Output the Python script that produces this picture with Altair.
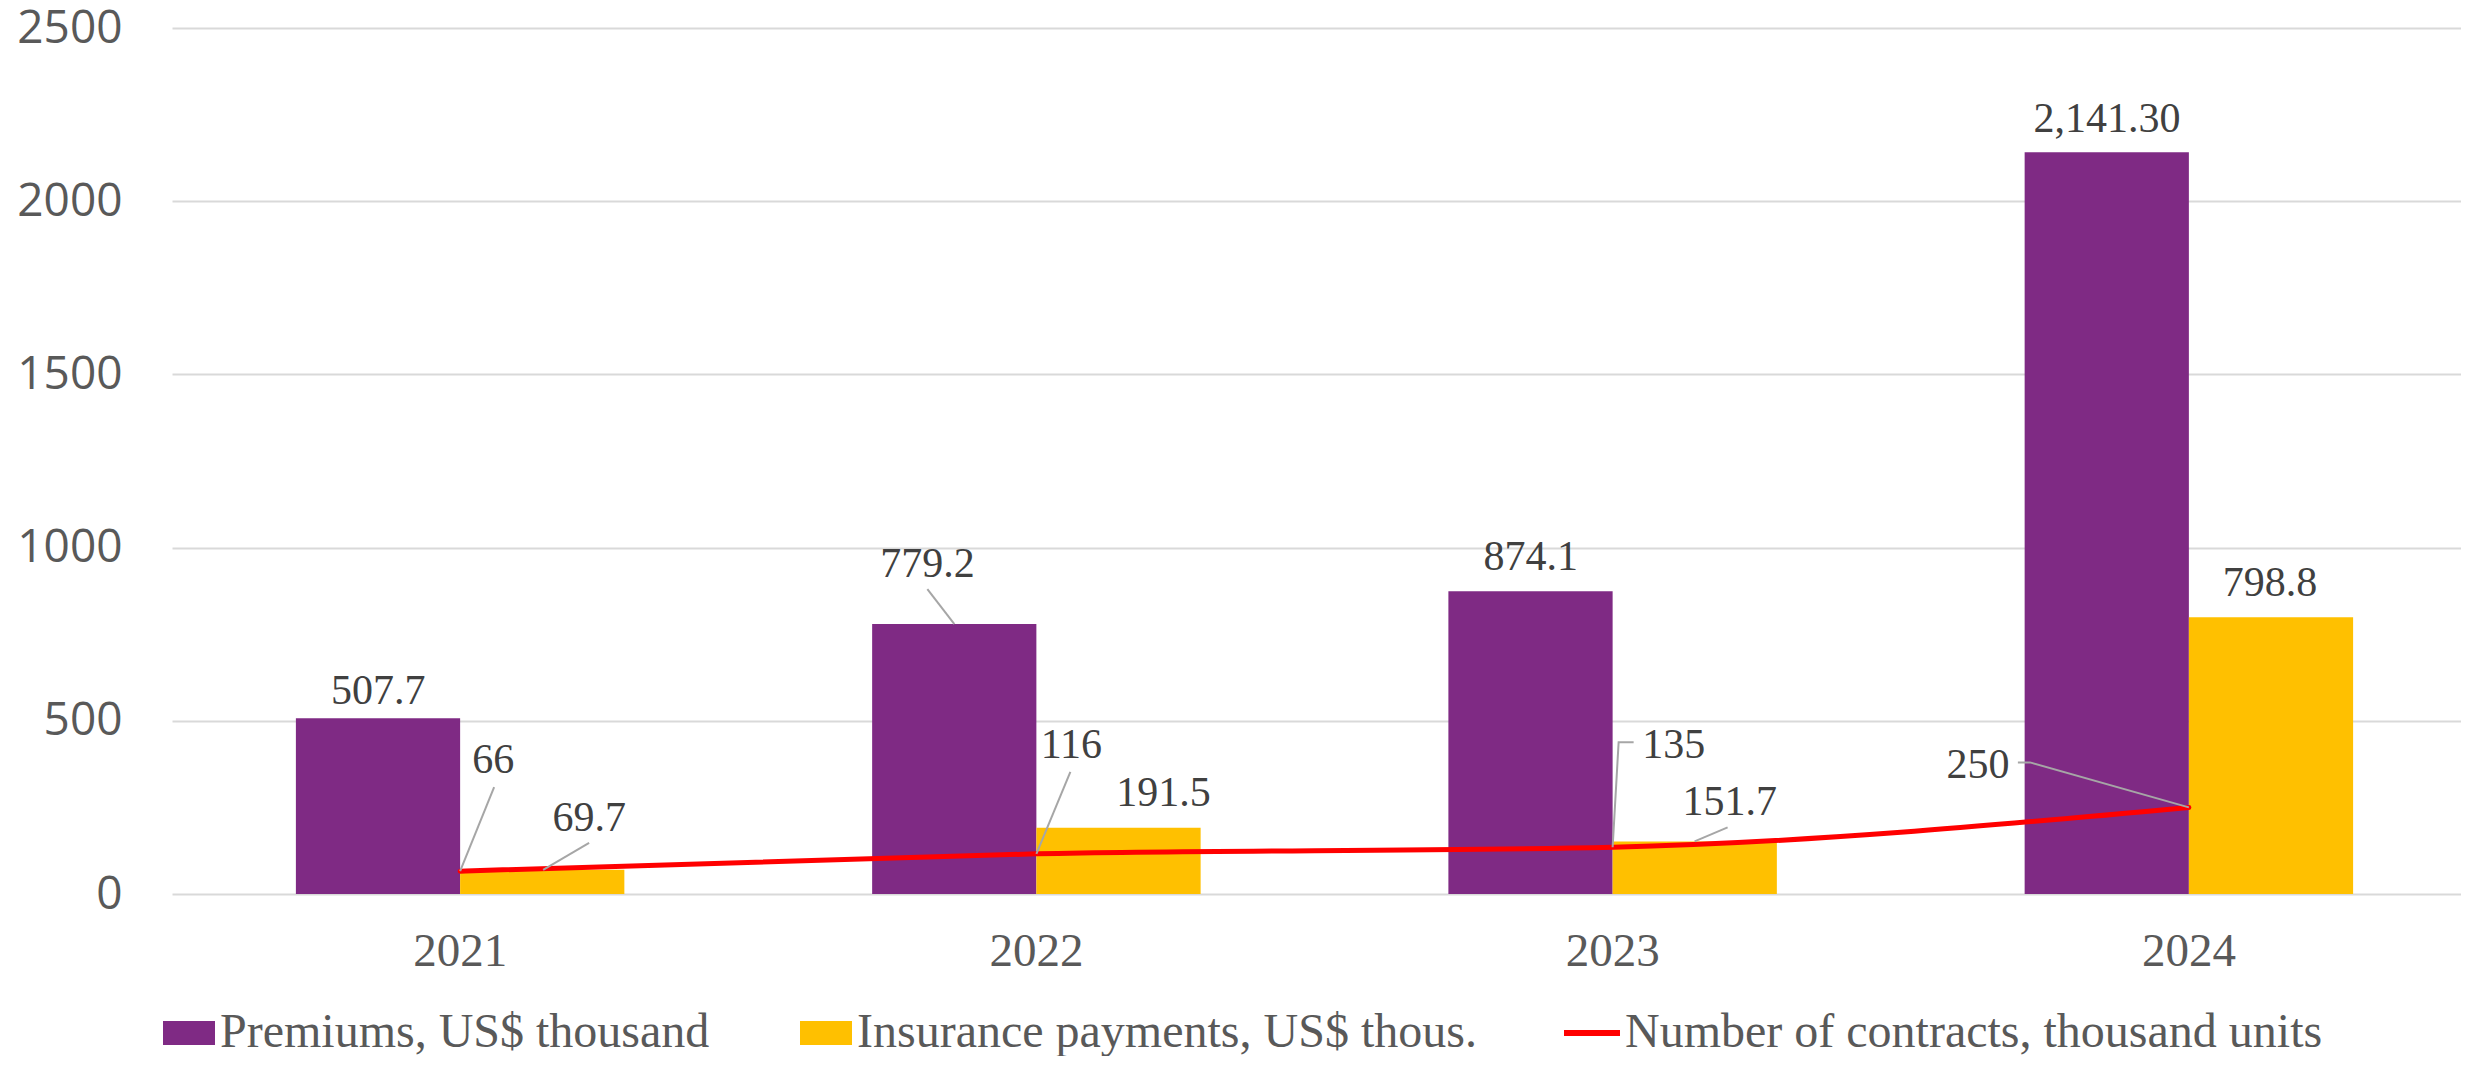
import altair as alt
import pandas as pd

# ---------------- data ----------------
YEARS = ["2021", "2022", "2023", "2024"]
PREMIUMS = [507.7, 779.2, 874.1, 2141.3]
PAYMENTS = [69.7, 191.5, 151.7, 798.8]
CONTRACTS = [66, 116, 135, 250]
PREMIUM_LABELS = ["507.7", "779.2", "874.1", "2,141.30"]
PAYMENT_LABELS = ["69.7", "191.5", "151.7", "798.8"]
CONTRACT_LABELS = ["66", "116", "135", "250"]
S_PREM = "Premiums, US$ thousand"
S_PAY = "Insurance payments, US$ thous."
S_CON = "Number of contracts, thousand units"
Y_TICKS = [0, 500, 1000, 1500, 2000, 2500]

# ---------------- style ----------------
SERIF = "Liberation Serif"
SANS = "Open Sans"
C_PREM, C_PAY, C_CON = "#7F2A84", "#FFC000", "#FF0000"
LABEL_COLOR = "#404040"
AXIS_COLOR = "#595959"
LEADER_COLOR = "#A6A6A6"

# label pixel offsets (dx, dy) from band centre / value position
PREM_OFF = [(-82, -14), (-109, -47), (-82, -21), (-82, -20)]
PAY_OFF = [(129, -39), (127, -22), (117, -26), (81, -21)]
CON_OFF = [(33, -98), (35, -96), (61, -89), (-211, -29)]
# leader-line shapes (pixel paths relative to the labelled point)
PREM_LEAD = {1: "M-82,0L-109,-35"}
PAY_LEAD = {0: "M83,0L129,-27", 2: "M82,0L115,-14"}
CON_LEAD = {0: "M0,0L34,-84", 1: "M0,0L34,-82", 2: "M0,0L6,-105L21,-105",
            3: "M0,0L-159,-45L-171,-45"}

bars_df = pd.DataFrame({
    "year": YEARS * 2,
    "series": [S_PREM] * len(YEARS) + [S_PAY] * len(YEARS),
    "value": PREMIUMS + PAYMENTS,
})
line_df = pd.DataFrame({"year": YEARS, "series": [S_CON] * len(YEARS), "value": CONTRACTS})

X = alt.X(
    "year:N",
    sort=YEARS,
    title=None,
    scale=alt.Scale(domain=YEARS, range=[0, 2305], paddingInner=0.43, paddingOuter=0.215),
    axis=alt.Axis(labelFont=SERIF, labelFontSize=47, labelColor=AXIS_COLOR,
                  labelPadding=71, labelBaseline="alphabetic", labelAngle=0,
                  ticks=False, tickSize=0, domain=False, grid=False),
)
Y = alt.Y(
    "value:Q",
    title=None,
    scale=alt.Scale(domain=[0, 2500], nice=False),
    axis=alt.Axis(values=Y_TICKS, format="d", labelFont=SANS, labelFontSize=46,
                  labelColor=AXIS_COLOR, labelPadding=50, ticks=False, tickSize=0,
                  domain=False, grid=True, gridColor="#D9D9D9", gridWidth=2),
)

bars = alt.Chart(bars_df).mark_bar().encode(
    x=X,
    xOffset=alt.XOffset("series:N", sort=[S_PREM, S_PAY],
                        scale=alt.Scale(domain=[S_PREM, S_PAY], paddingInner=0, paddingOuter=0)),
    y=Y,
    color=alt.Color(
        "series:N",
        scale=alt.Scale(domain=[S_PREM, S_PAY], range=[C_PREM, C_PAY]),
        legend=alt.Legend(orient="none", legendX=-9, legendY=979, direction="horizontal",
                          columns=2, columnPadding=90, symbolType="M-1,-0.46H1V0.46H-1Z",
                          symbolSize=2704, symbolStrokeWidth=0, symbolOpacity=1,
                          labelFont=SERIF, labelFontSize=48, labelColor=AXIS_COLOR,
                          labelOffset=5, labelLimit=3000, title=None, padding=0),
    ),
)

line = alt.Chart(line_df).mark_line(strokeWidth=5, interpolate="monotone", strokeCap="round").encode(
    x=X,
    y=Y,
    stroke=alt.Stroke(
        "series:N",
        scale=alt.Scale(domain=[S_CON], range=[C_CON]),
        legend=alt.Legend(orient="none", legendX=1389, legendY=974, direction="horizontal",
                          symbolType="stroke", symbolSize=3136, symbolStrokeWidth=6,
                          symbolStrokeColor=C_CON, labelFont=SERIF, labelFontSize=48,
                          labelColor=AXIS_COLOR, labelOffset=2, labelLimit=3000,
                          title=None, padding=0),
    ),
)

layers = [bars, line]

def add_labels(values, labels, offsets, leaders):
    for i, (yr, v, lab) in enumerate(zip(YEARS, values, labels)):
        d = pd.DataFrame({"year": [yr], "value": [v], "label": [lab]})
        if i in leaders:
            layers.append(
                alt.Chart(d).mark_point(shape=leaders[i], size=4, filled=False,
                                        stroke=LEADER_COLOR, strokeWidth=2, opacity=1)
                .encode(x=X, y=Y)
            )
        dx, dy = offsets[i]
        layers.append(
            alt.Chart(d).mark_text(dx=dx, dy=dy, align="center", baseline="alphabetic",
                                   font=SERIF, fontSize=42, color=LABEL_COLOR)
            .encode(x=X, y=Y, text="label:N")
        )

add_labels(PREMIUMS, PREMIUM_LABELS, PREM_OFF, PREM_LEAD)
add_labels(PAYMENTS, PAYMENT_LABELS, PAY_OFF, PAY_LEAD)
add_labels(CONTRACTS, CONTRACT_LABELS, CON_OFF, CON_LEAD)

chart = alt.layer(*layers).properties(
    width=2289,
    height=866,
    autosize=alt.AutoSizeParams(type="none"),
    padding={"left": 164, "top": 20, "right": 0, "bottom": 162},
    background="white",
).resolve_scale(color="independent", stroke="independent").configure_view(strokeWidth=0)

chart.save("out.html", embed_options={"renderer": "svg", "actions": False})
